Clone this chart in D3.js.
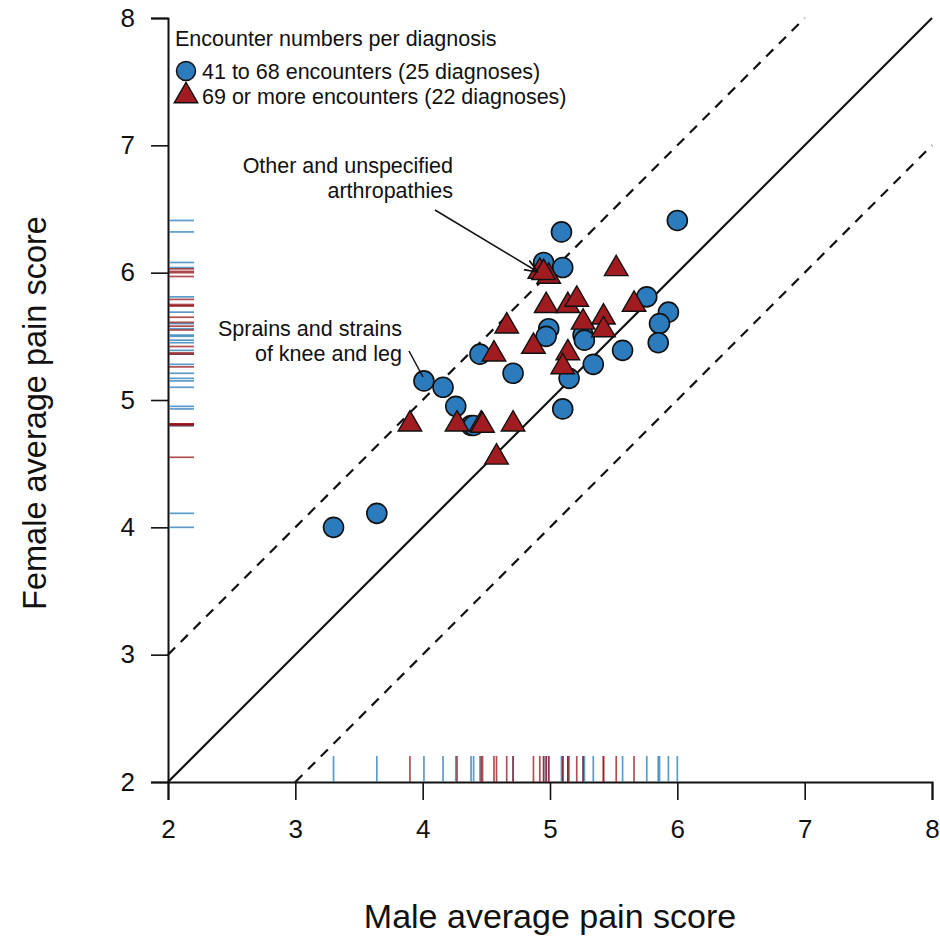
<html>
<script src='https://d3js.org/d3.v7.min.js'></script>
<style>
  body {margin: 0; background: #fff;}
  svg text {font-family: "Liberation Sans", Arial, sans-serif; fill: #111;}
</style>
<body>
<svg class="chart" width=940 height=940></svg>
<script>
// blue circles: 41 to 68 encounters
var circleX = [3.30, 3.64, 4.01, 4.16, 4.26, 4.38, 4.45, 4.71, 4.95, 5.10, 5.09, 6.00, 5.76,
               5.93, 5.86, 5.85, 5.57, 5.34, 5.15, 5.10, 4.99, 4.97, 5.26, 5.27, 4.40];
var circleY = [4.00, 4.11, 5.15, 5.10, 4.95, 4.80, 5.36, 5.21, 6.08, 6.04, 6.32, 6.41, 5.81,
               5.69, 5.60, 5.45, 5.39, 5.28, 5.17, 4.93, 5.56, 5.50, 5.51, 5.47, 4.80];
// red triangles: 69 or more encounters
var triX = [3.90, 4.27, 4.46, 4.47, 4.71, 4.58, 4.56, 4.66, 4.87, 4.97, 4.92,
            4.99, 5.14, 5.21, 5.14, 5.10, 5.26, 5.42, 5.42, 5.52, 5.66, 4.95];
var triY = [4.81, 4.81, 4.81, 4.80, 4.81, 4.55, 5.36, 5.58, 5.42, 5.74, 6.01,
            5.97, 5.74, 5.79, 5.37, 5.26, 5.61, 5.65, 5.55, 6.03, 5.75, 6.00];
var ticks = [2, 3, 4, 5, 6, 7, 8];
var legendTitle = "Encounter numbers per diagnosis";
var legendLabels = ["41 to 68 encounters (25 diagnoses)", "69 or more encounters (22 diagnoses)"];

var blue = "#2b7bbd", red = "#a11c20";
var rugBlue = "rgba(50,130,185,0.8)", rugRed = "rgba(150,20,25,0.75)";

var svg = d3.select("svg");
var x = d3.scaleLinear().domain([2, 8]).range([168, 932]);
var y = d3.scaleLinear().domain([2, 8]).range([782, 18]);

svg.append("defs").append("marker")
  .attr("id", "arrow").attr("viewBox", "0 0 10 10")
  .attr("refX", 10).attr("refY", 5)
  .attr("markerWidth", 9).attr("markerHeight", 9)
  .attr("orient", "auto")
  .append("path").attr("d", "M0,1 L10,5 L0,9").attr("fill", "none")
  .attr("stroke", "#111").attr("stroke-width", 1.3);

// axes
var xAxis = d3.axisBottom(x).tickValues(ticks).tickSize(18).tickPadding(20).tickFormat(d3.format("d"));
var yAxis = d3.axisLeft(y).tickValues(ticks).tickSize(17).tickPadding(16).tickFormat(d3.format("d"));
var gx = svg.append("g").attr("transform", "translate(0,782)").call(xAxis);
var gy = svg.append("g").attr("transform", "translate(168,0)").call(yAxis);
[gx, gy].forEach(function(g) {
  g.attr("font-size", 26).attr("font-family", "'Liberation Sans', Arial, sans-serif");
  g.select(".domain").attr("stroke", "#111").attr("stroke-width", 2);
  g.selectAll(".tick line").attr("stroke", "#111").attr("stroke-width", 1.6);
  g.selectAll(".tick text").attr("fill", "#111");
});

// reference lines
var lines = [
  {a: [2, 2], b: [8, 8], dash: null},
  {a: [2, 3], b: [7, 8], dash: "10,8"},
  {a: [3, 2], b: [8, 7], dash: "10,8"}
];
svg.selectAll(".ref").data(lines).enter().append("line")
  .attr("x1", function(d) { return x(d.a[0]); }).attr("y1", function(d) { return y(d.a[1]); })
  .attr("x2", function(d) { return x(d.b[0]); }).attr("y2", function(d) { return y(d.b[1]); })
  .attr("stroke", "#111").attr("stroke-width", 2.2)
  .attr("stroke-dasharray", function(d) { return d.dash; });

// rugs
var circles = circleX.map(function(v, i) { return {x: v, y: circleY[i]}; });
var tris = triX.map(function(v, i) { return {x: v, y: triY[i]}; });
function rug(data, col) {
  svg.append("g").selectAll("line").data(data).enter().append("line")
    .attr("x1", function(d) { return x(d.x); }).attr("x2", function(d) { return x(d.x); })
    .attr("y1", 782).attr("y2", 756)
    .attr("stroke", col).attr("stroke-width", 1.7);
  svg.append("g").selectAll("line").data(data).enter().append("line")
    .attr("y1", function(d) { return y(d.y); }).attr("y2", function(d) { return y(d.y); })
    .attr("x1", 169).attr("x2", 194)
    .attr("stroke", col).attr("stroke-width", 1.7);
}
rug(circles, rugBlue);
rug(tris, rugRed);

// points
svg.append("g").selectAll("circle").data(circles).enter().append("circle")
  .attr("cx", function(d) { return x(d.x); }).attr("cy", function(d) { return y(d.y); })
  .attr("r", 10).attr("fill", blue).attr("stroke", "#111").attr("stroke-width", 1.6);
var tri = d3.symbol().type(d3.symbolTriangle).size(240);
svg.append("g").selectAll("path").data(tris).enter().append("path")
  .attr("d", tri)
  .attr("transform", function(d) { return "translate(" + x(d.x) + "," + y(d.y) + ")"; })
  .attr("fill", red).attr("stroke", "#111").attr("stroke-width", 1.4);

// legend
svg.append("text").attr("x", 175).attr("y", 46).style("font-size", "21.5px").text(legendTitle);
svg.append("circle").attr("cx", 186).attr("cy", 71).attr("r", 9.5)
  .attr("fill", blue).attr("stroke", "#111").attr("stroke-width", 1.5);
svg.append("path").attr("d", tri).attr("transform", "translate(186,96)")
  .attr("fill", red).attr("stroke", "#111").attr("stroke-width", 1.4);
svg.selectAll(".leg").data(legendLabels).enter().append("text")
  .attr("x", 202).attr("y", function(d, i) { return 79 + i * 25; })
  .style("font-size", "21.5px").text(function(d) { return d; });

// annotations
svg.append("text").attr("x", 453).attr("y", 173).attr("text-anchor", "end")
  .style("font-size", "21.5px").text("Other and unspecified");
svg.append("text").attr("x", 453).attr("y", 198).attr("text-anchor", "end")
  .style("font-size", "21.5px").text("arthropathies");
svg.append("line").attr("x1", 435).attr("y1", 210).attr("x2", 538).attr("y2", 272)
  .attr("stroke", "#111").attr("stroke-width", 1.5).attr("marker-end", "url(#arrow)");

svg.append("text").attr("x", 402).attr("y", 336).attr("text-anchor", "end")
  .style("font-size", "21.5px").text("Sprains and strains");
svg.append("text").attr("x", 402).attr("y", 361).attr("text-anchor", "end")
  .style("font-size", "21.5px").text("of knee and leg");
svg.append("line").attr("x1", 409).attr("y1", 351).attr("x2", 423).attr("y2", 377)
  .attr("stroke", "#111").attr("stroke-width", 1.5);

// axis titles
svg.append("text").attr("x", 550).attr("y", 928).attr("text-anchor", "middle")
  .style("font-size", "34px").text("Male average pain score");
svg.append("text").attr("transform", "translate(46,413) rotate(-90)")
  .attr("text-anchor", "middle").style("font-size", "32.5px").text("Female average pain score");
</script>
</body>
</html>
